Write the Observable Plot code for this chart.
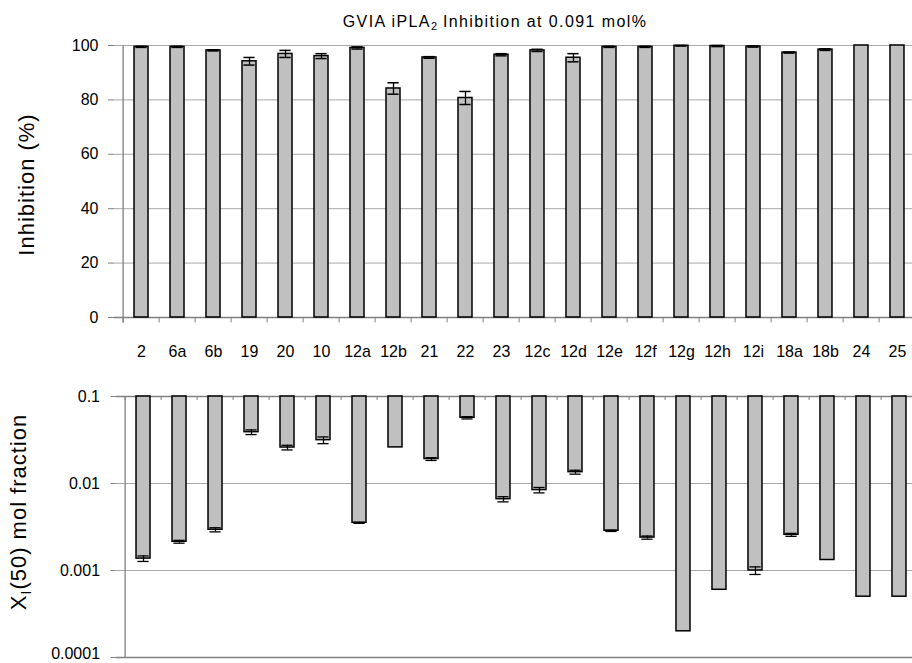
<!DOCTYPE html>
<html>
<head>
<meta charset="utf-8">
<script src="https://cdn.jsdelivr.net/npm/d3@7"></script>
<script src="https://cdn.jsdelivr.net/npm/@observablehq/plot@0.6"></script>
<style>
  html, body { margin: 0; padding: 0; background: white; }
  #wrap { position: relative; width: 912px; height: 663px; overflow: hidden; background: white; font-family: "Liberation Sans", Arial, sans-serif; }
  #top { position: absolute; left: 0; top: 0; }
  #bot { position: absolute; left: 0; top: 365px; }
  #title { position: absolute; left: 495px; top: 14px; transform: translateX(-50%); white-space: nowrap;
           font-size: 16px; line-height: 16px; letter-spacing: 1.4px; color: black; }
  #title sub { font-size: 11px; vertical-align: -3px; line-height: 0; letter-spacing: 0; }
</style>
</head>
<body>
<div id="wrap">
  <div id="top"></div>
  <div id="bot"></div>
  <div id="title">GVIA iPLA<sub>2</sub> Inhibition at 0.091 mol%</div>
</div>
<script>
const categories = ["2","6a","6b","19","20","10","12a","12b","21","22","23","12c","12d","12e","12f","12g","12h","12i","18a","18b","24","25"];
const inhibition = [99.5,99.5,98.2,94.2,96.9,96.1,99.1,84.2,95.6,80.7,96.6,98.2,95.5,99.5,99.5,99.9,99.8,99.6,97.4,98.5,100,100];
const inhibitionErr = [0.2,0.2,0.2,1.4,1.3,0.9,0.4,2.1,0.3,2.4,0.4,0.4,1.5,0.2,0.2,0.1,0.2,0.2,0.2,0.3,0,0];
const xi50 = [0.00137,0.00214,0.00294,0.0389,0.0259,0.0315,0.00353,0.026,0.0191,0.0569,0.0066,0.0084,0.0135,0.00286,0.00239,0.0002,0.0006,0.001,0.00257,0.00132,0.0005,0.0005];
const xi50Err = [0.0001,0.00008,0.00016,0.0024,0.0016,0.0028,0.00005,0,0.0007,0.0017,0.00045,0.0006,0.0007,0.00005,0.0001,0,0,0.0001,0.0001,0,0,0];
const inhibitionTicks = [0,20,40,60,80,100];
const xiTicks = [0.1,0.01,0.001,0.0001];
const topLabel = "Inhibition (%)";
const botLabel = "XI(50) mol fraction";

const topData = categories.map((c, i) => ({c, v: inhibition[i], e: inhibitionErr[i]}));
const botData = categories.map((c, i) => ({c, v: xi50[i], e: xi50Err[i]}));

const FONT = "'Liberation Sans', Arial, sans-serif";
const AXIS = "#808080";
const GRID = "#a8a8a8";
const STEP = 36.8;
const N = categories.length;
const PADI = 0.625;

function xScale() {
  return {type: "band", domain: categories, paddingInner: PADI, paddingOuter: PADI / 2, axis: null};
}

const topPlot = Plot.plot({
  width: 114 + N * STEP,
  height: 370,
  marginTop: 45, marginBottom: 53, marginLeft: 114, marginRight: 0,
  style: {maxWidth: "none", overflow: "visible", background: "transparent", fontFamily: FONT, color: "black"},
  x: xScale(),
  y: {domain: [0, 100], axis: null},
  marks: [
    Plot.gridY(inhibitionTicks.filter(t => t > 0), {stroke: GRID, strokeOpacity: 1, strokeWidth: 1}),
    Plot.ruleY([0], {stroke: AXIS, strokeWidth: 1.3}),
    Plot.ruleX(categories, {x: d => d, y1: 0, y2: -2, dx: -STEP / 2, stroke: AXIS, strokeWidth: 1}),
    Plot.ruleX([categories[0]], {x: d => d, y1: -2, y2: 100, dx: -STEP / 2, stroke: AXIS, strokeWidth: 1.3}),
    Plot.axisY({ticks: inhibitionTicks, tickSize: 6, tickPadding: 10, fontSize: 16, stroke: AXIS, tickFormat: d => String(d), label: null}),
    Plot.axisX({anchor: "bottom", tickSize: 0, tickPadding: 28, fontSize: 16, label: null}),
    Plot.barY(topData, {x: "c", y: "v", fill: "#c0c0c0", stroke: "black", strokeWidth: 1.5}),
    Plot.ruleX(topData.filter(d => d.e > 0), {x: "c", y1: d => d.v - d.e, y2: d => d.v + d.e, stroke: "black", strokeWidth: 1.3}),
    Plot.tickY(topData.filter(d => d.e > 0), {x: "c", y: d => d.v + d.e, stroke: "black", strokeWidth: 1.5, insetLeft: 1.4, insetRight: 1.4}),
    Plot.tickY(topData.filter(d => d.e > 0), {x: "c", y: d => d.v - d.e, stroke: "black", strokeWidth: 1.5, insetLeft: 1.4, insetRight: 1.4}),
    Plot.text([topLabel], {frameAnchor: "left", rotate: -90, dx: -81, dy: 3, fontSize: 22, lineAnchor: "bottom", textAnchor: "middle", fill: "black"})
  ]
});
document.getElementById("top").appendChild(topPlot);

const botPlot = Plot.plot({
  width: 115.5 + N * STEP,
  height: 298,
  marginTop: 31, marginBottom: 6, marginLeft: 115.5, marginRight: 0,
  style: {maxWidth: "none", overflow: "visible", background: "transparent", fontFamily: FONT, color: "black"},
  x: xScale(),
  y: {type: "log", domain: [0.0001, 0.1], axis: null},
  marks: [
    Plot.gridY([0.01, 0.001], {stroke: GRID, strokeOpacity: 1, strokeWidth: 1}),
    Plot.ruleY([0.1], {stroke: AXIS, strokeWidth: 1.3}),
    Plot.ruleY([0.0001], {stroke: AXIS, strokeWidth: 1.3}),
    Plot.ruleX(categories, {x: d => d, y1: 0.1, y2: 0.09, dx: -STEP / 2, stroke: AXIS, strokeWidth: 1}),
    Plot.ruleX([categories[0]], {x: d => d, y1: 0.0001, y2: 0.1, dx: -STEP / 2, stroke: AXIS, strokeWidth: 1.3}),
    Plot.axisY({ticks: xiTicks, tickSize: 5, tickPadding: 11, fontSize: 16, stroke: AXIS, tickFormat: d => String(d), label: null, text: null}),
    Plot.axisY({ticks: xiTicks.slice(0, 3), tickSize: 0, tickPadding: 16, fontSize: 16, tickFormat: d => String(d), label: null}),
    Plot.axisY({ticks: xiTicks.slice(3), tickSize: 0, tickPadding: 16, fontSize: 16, tickFormat: d => String(d), label: null, dy: -4}),
    Plot.barY(botData, {x: "c", y1: 0.1, y2: "v", fill: "#c0c0c0", stroke: "black", strokeWidth: 1.5}),
    Plot.ruleX(botData.filter(d => d.e > 0), {x: "c", y1: d => d.v - d.e, y2: d => d.v + d.e, stroke: "black", strokeWidth: 1.3}),
    Plot.tickY(botData.filter(d => d.e > 0), {x: "c", y: d => d.v + d.e, stroke: "black", strokeWidth: 1.3, insetLeft: 1.4, insetRight: 1.4}),
    Plot.tickY(botData.filter(d => d.e > 0), {x: "c", y: d => d.v - d.e, stroke: "black", strokeWidth: 1.3, insetLeft: 1.4, insetRight: 1.4}),
    Plot.text([botLabel], {frameAnchor: "left", rotate: -90, dx: -90, dy: -15, fontSize: 22, lineAnchor: "bottom", textAnchor: "middle", fill: "black"})
  ]
});
document.getElementById("bot").appendChild(botPlot);

// letter spacing for the axis titles, and subscript "I" in X_I(50)
d3.select(topPlot).selectAll("text").filter(function() { return this.textContent === topLabel; })
  .attr("letter-spacing", "1px");
d3.select(botPlot).selectAll("text").filter(function() { return this.textContent === botLabel; })
  .each(function() {
    const t = d3.select(this);
    t.attr("letter-spacing", "1px").text(null);
    t.append("tspan").text("X");
    t.append("tspan").attr("font-size", 14).attr("dy", 5).text("I");
    t.append("tspan").attr("dy", -5).text("(50) mol fraction");
  });
</script>
</body>
</html>
